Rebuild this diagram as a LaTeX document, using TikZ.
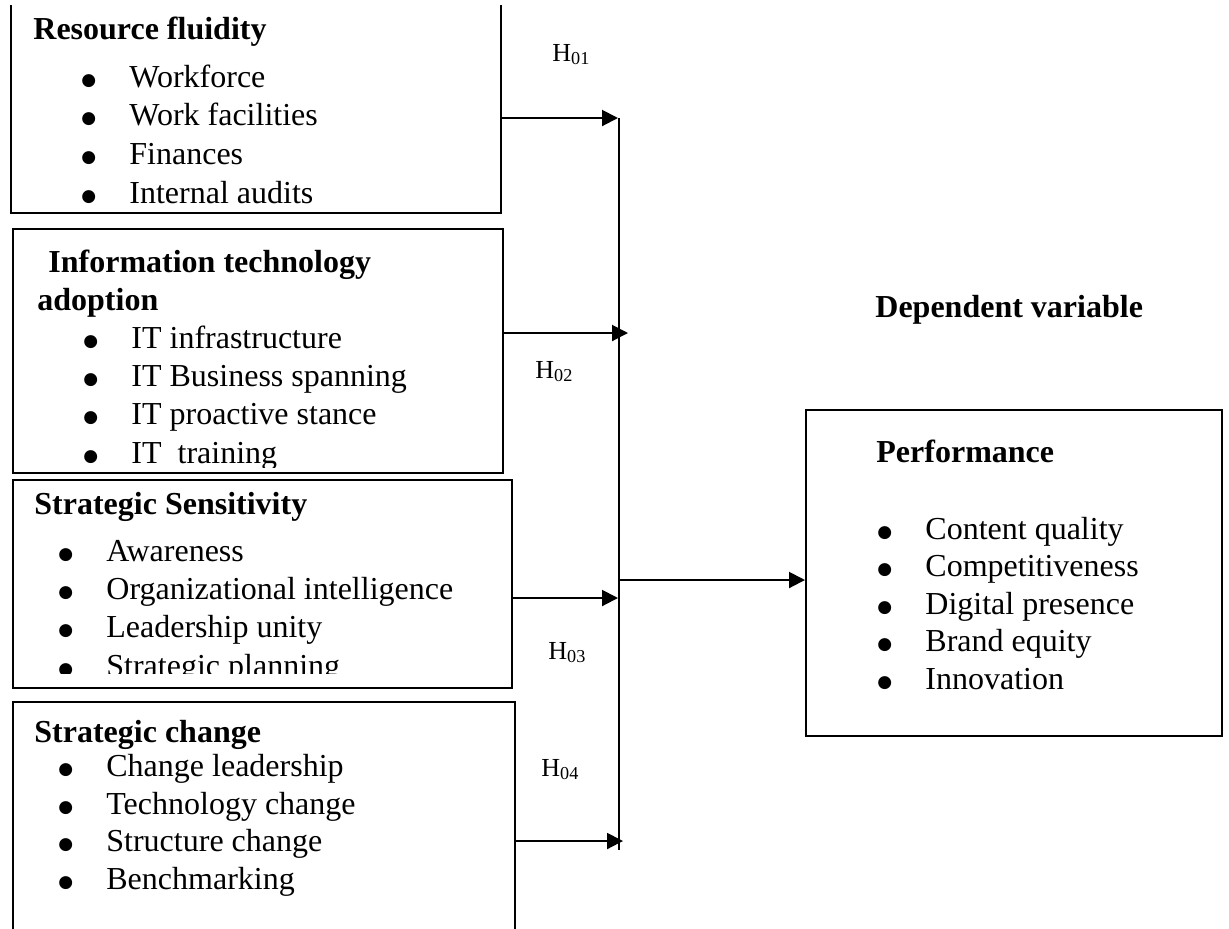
\documentclass[tikz,border=0pt]{standalone}
\usepackage{fontspec}
\setmainfont{Liberation Serif}
\newfontfamily\dotfont{DejaVu Sans}
\usetikzlibrary{arrows.meta, fit}

\newcommand{\bul}[1]{\makebox[24pt][l]{\raisebox{0.9pt}{\dotfont\fontsize{8.5}{9}\selectfont ●}}#1}

\begin{document}
\begin{tikzpicture}[
    x=0.5pt, y=-0.5pt, % pixel grid of the figure
    >={Triangle[length=8pt, width=8pt]},
    box/.style={draw, line width=1pt, inner sep=0pt}, % frame of a variable
    head/.style={anchor=base west, inner sep=0pt, font=\fontsize{16}{19}\selectfont\bfseries},
    entry/.style={anchor=base west, inner sep=0pt, font=\fontsize{16}{19}\selectfont},
    hyp/.style={anchor=base west, inner sep=0pt, font=\fontsize{13}{15}\selectfont},
    arrow/.style={->, line width=1pt},
    bus/.style={line width=0.8pt}
]
    \useasboundingbox (0,0) rectangle (1229,928);
    \clip (0,5) rectangle (1229,928);

    % Frames
    \node[box, fit={(11,-30) (501,213)}] (rf) {};
    \node[box, fit={(13,229) (503,473)}] (ita) {};
    \node[box, fit={(13,480) (512,688)}] (ss) {};
    \node[box, fit={(13,702) (515,960)}] (sc) {};
    \node[box, fit={(806,410) (1222,736)}] (perf) {};

    % Resource fluidity
    \node[head] (rf-t) at (33,39) {Resource fluidity};
    \node[entry] (rf-1) at (81,87) {\bul{Workforce}};
    \node[entry] (rf-2) at (81,125) {\bul{Work facilities}};
    \node[entry] (rf-3) at (81,164) {\bul{Finances}};
    \node[entry] (rf-4) at (81,203) {\bul{Internal audits}};

    % Information technology adoption (text cut by the frame)
    \begin{scope}
        \clip (ita.north west) rectangle ([yshift=3.5pt]ita.south east);
        \node[head] (ita-t) at (48,272) {Information technology};
        \node[head] (ita-t2) at (37,310) {adoption};
        \node[entry] (ita-1) at (83,348) {\bul{IT infrastructure}};
        \node[entry] (ita-2) at (83,386) {\bul{IT Business spanning}};
        \node[entry] (ita-3) at (83,424) {\bul{IT proactive stance}};
        \node[entry] (ita-4) at (83,463) {\bul{IT\ \ training}};
    \end{scope}

    % Strategic Sensitivity (text cut by the frame)
    \begin{scope}
        \clip (ss.north west) rectangle ([yshift=8pt]ss.south east);
        \node[head] (ss-t) at (34,514) {Strategic Sensitivity};
        \node[entry] (ss-1) at (58,561) {\bul{Awareness}};
        \node[entry] (ss-2) at (58,599) {\bul{Organizational intelligence}};
        \node[entry] (ss-3) at (58,637) {\bul{Leadership unity}};
        \node[entry] (ss-4) at (58,676) {\bul{Strategic planning}};
    \end{scope}

    % Strategic change
    \node[head] (sc-t) at (34,742) {Strategic change};
    \node[entry] (sc-1) at (58,776) {\bul{Change leadership}};
    \node[entry] (sc-2) at (58,814) {\bul{Technology change}};
    \node[entry] (sc-3) at (58,851) {\bul{Structure change}};
    \node[entry] (sc-4) at (58,889) {\bul{Benchmarking}};

    % Dependent variable
    \node[head] (dv) at (875,317) {Dependent variable};
    \node[head] (perf-t) at (876,462) {Performance};
    \node[entry] (perf-1) at (877,539) {\bul{Content quality}};
    \node[entry] (perf-2) at (877,576) {\bul{Competitiveness}};
    \node[entry] (perf-3) at (877,614) {\bul{Digital presence}};
    \node[entry] (perf-4) at (877,651) {\bul{Brand equity}};
    \node[entry] (perf-5) at (877,689) {\bul{Innovation}};

    % Hypotheses
    \node[hyp] (h01) at (552,61) {H\textsubscript{01}};
    \node[hyp] (h02) at (535,378) {H\textsubscript{02}};
    \node[hyp] (h03) at (548,659) {H\textsubscript{03}};
    \node[hyp] (h04) at (541,776) {H\textsubscript{04}};

    % Connectors
    \coordinate (top) at (619,118);
    \coordinate (bot) at (619,850);
    \coordinate (in1) at (618,118);
    \coordinate (in2) at (628,333);
    \coordinate (in3) at (618,598);
    \coordinate (in4) at (623,841);
    \coordinate (out) at (619,580);

    \draw[bus] (top) -- (bot);
    \draw[arrow] (in1 -| rf.east) -- (in1);
    \draw[arrow] (in2 -| ita.east) -- (in2);
    \draw[arrow] (in3 -| ss.east) -- (in3);
    \draw[arrow] (in4 -| sc.east) -- (in4);
    \draw[arrow] (out) -- (out -| perf.west);

\end{tikzpicture}
\end{document}
